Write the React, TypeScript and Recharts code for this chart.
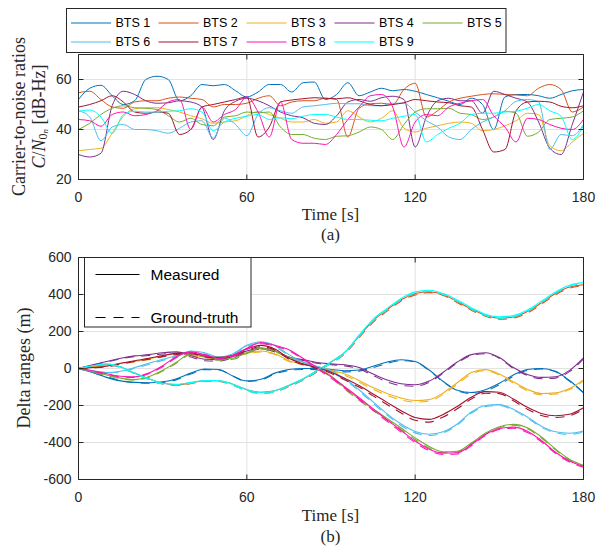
import { CartesianGrid, Line, LineChart, XAxis, YAxis } from "recharts";

// ---- (a) carrier-to-noise ratio per BTS, sampled every 4 s ----
const cnTimes = [
  0, 4, 8, 12, 16, 20, 24, 28, 32, 36, 40, 44, 48, 52, 56, 60, 64, 68, 72, 76, 80, 84, 88,
  92, 96, 100, 104, 108, 112, 116, 120, 124, 128, 132, 136, 140, 144, 148, 152, 156, 160,
  164, 168, 172, 176, 180,
];

const cnBts1 = [
  52, 56.5, 57.7, 53.5, 50, 51.5, 60, 61.3, 60, 51.5, 53.5, 58, 57.5, 58, 55.5, 53, 55, 58,
  58, 55, 58.7, 59, 52, 54, 58.7, 53.5, 55, 56.5, 55.5, 56, 55.3, 54, 52.7, 51.3, 50, 52.5,
  50, 40, 53, 54, 54, 53.5, 52.5, 54, 55.5, 56,
];
const cnBts2 = [
  54.7, 55.3, 52, 49, 48.5, 51, 51.5, 51.5, 52.5, 53, 52.5, 52, 49, 50, 50, 50.5, 52.5, 53.5,
  49.5, 51, 51.5, 51.5, 52.5, 52, 37, 48.5, 50.3, 50.5, 50, 56, 58.5, 45, 47.5, 51, 52.5,
  53.3, 54, 54.3, 54, 53.8, 53.5, 56.5, 58, 56, 47, 49,
];
const cnBts3 = [
  31.5, 32, 32.5, 38.5, 45.3, 48.3, 48.7, 48.7, 48, 47, 45.5, 44.3, 42.5, 43, 43.5, 45.5,
  47.2, 46, 44.5, 43, 43, 44, 42.5, 43, 47.5, 45, 43, 44.5, 47.5, 40.5, 39, 40.5, 41.5, 42.5,
  43, 42.5, 39.5, 40, 41.5, 43.5, 46.5, 46, 33.5, 31.5, 35, 38.5,
];
const cnBts4 = [
  30, 29, 30.5, 49.5, 55.3, 54, 51.5, 50.5, 50.7, 51.5, 51, 49, 36, 47.5, 51.3, 52.5, 51.5,
  49.5, 47, 45.5, 44.7, 42.5, 42, 45.5, 51, 52, 51.3, 52.7, 53.3, 52, 33, 45, 51.5, 52.5,
  51.5, 51.5, 46.5, 55.3, 54, 52.5, 51, 43, 32.5, 30, 42, 55,
];
const cnBts5 = [
  40, 42.5, 46, 48.5, 49.5, 48.7, 48.5, 48, 45.5, 43, 44.5, 42, 41.5, 45, 45.5, 47, 46.7, 47,
  41, 38, 38, 36.5, 36, 37.3, 37.5, 39, 41, 40, 36, 42, 47, 48.3, 48.3, 48.5, 46.5, 46, 44,
  45, 47.3, 46.5, 37.3, 39, 44, 44.5, 45, 47.5,
];
const cnBts6 = [
  47.5, 45, 35.5, 41, 42, 40, 40, 39.5, 38.5, 40.5, 43, 43.5, 36.5, 44.5, 42, 37.5, 46, 48.7,
  47.5, 46.5, 49, 49.5, 50, 50.5, 50.3, 50.3, 49.5, 49.5, 50.5, 50.5, 47, 43.5, 41, 37, 36,
  40, 43, 45, 47.5, 51.3, 52, 51, 32, 38, 37.5, 42,
];
const cnBts7 = [
  49, 50, 51.5, 53.5, 51, 47, 46.5, 47, 46.5, 38, 40, 49, 50, 51, 52, 53, 37, 41, 51, 51.8,
  52.3, 52.7, 52.5, 52.3, 52.7, 51.5, 50, 49.5, 50, 50.7, 52, 51.5, 51, 50.7, 49.5, 49, 40,
  31, 32, 47.5, 51, 51.3, 51, 49.3, 48.7, 49.5,
];
const cnBts8 = [
  44, 43.5, 41.3, 46, 47, 45.5, 46, 47.5, 51, 52, 40, 49, 43, 46, 48, 53, 47, 37, 51, 36,
  34.5, 34.5, 34, 38, 44, 49, 53.5, 54, 49, 33, 43, 46, 45.5, 49, 50.5, 51.5, 52, 45.5, 41,
  35, 44.5, 44, 42, 40.5, 40, 44,
];
const cnBts9 = [
  47.3, 47.8, 45, 38.5, 46, 47.3, 47, 47, 47.3, 47.5, 48.3, 47, 39.5, 43, 44.5, 45.3, 46, 44,
  44.7, 44.3, 45.3, 46, 46, 45, 44, 44, 43.7, 43.5, 44.5, 45.3, 46, 35, 38, 40.5, 42.5, 46,
  46.5, 46.5, 47, 47.3, 48.5, 50, 47.5, 45.3, 36, 41.5,
];

// ---- (b) delta ranges per BTS, sampled every 5 s ----
const drTimes = [
  0, 5, 10, 15, 20, 25, 30, 35, 40, 45, 50, 55, 60, 65, 70, 75, 80, 85, 90, 95, 100, 105, 110,
  115, 120, 125, 130, 135, 140, 145, 150, 155, 160, 165, 170, 175, 180,
];

const measBts1 = [
  0, -22, -48, -67, -75, -77, -72, -55, -25, -3, -5, -40, -67, -58, -25, -5, 0, 0, -5, -12,
  -8, 12, 35, 47, 38, -8, -70, -118, -130, -115, -80, -35, -5, 0, -15, -65, -130,
];
const measBts2 = [
  0, 12, 22, 8, -25, -55, -80, -88, -78, -66, -66, -85, -115, -128, -120, -92, -58, -12, 35,
  88, 175, 258, 318, 372, 405, 415, 400, 362, 322, 288, 272, 278, 308, 355, 405, 440, 453,
];
const measBts3 = [
  0, 8, 18, 27, 38, 52, 68, 83, 75, 63, 58, 68, 85, 95, 80, 42, 25, 10, -10, -30, -65, -103,
  -135, -160, -173, -168, -132, -77, -22, -6, -30, -72, -113, -135, -132, -108, -62,
];
const measBts4 = [
  0, 20, 38, 55, 68, 75, 85, 90, 70, 50, 48, 65, 95, 110, 95, 62, 48, 32, 25, 20, 5, -30,
  -62, -82, -88, -68, -20, 35, 75, 85, 60, 5, -32, -48, -45, -10, 58,
];
const measBts5 = [
  0, -18, -35, -52, -60, -45, -10, 35, 80, 68, 50, 55, 85, 110, 95, 62, 35, 5, -40, -105,
  -165, -218, -270, -322, -375, -422, -450, -447, -403, -350, -315, -302, -320, -370, -435,
  -490, -523,
];
const measBts6 = [
  0, -12, -22, -15, 5, 28, 50, 70, 95, 85, 62, 80, 125, 145, 125, 75, 35, 12, -15, -55, -115,
  -180, -245, -300, -340, -355, -342, -300, -235, -200, -195, -220, -262, -312, -342, -350,
  -338,
];
const measBts7 = [
  0, 5, 12, 28, 42, 55, 70, 82, 85, 68, 60, 72, 105, 125, 105, 55, 25, 5, -20, -54, -92,
  -138, -183, -228, -265, -275, -248, -205, -155, -125, -128, -165, -210, -243, -255, -247,
  -212,
];
const measBts8 = [
  0, -12, -28, -42, -45, -25, 15, 65, 90, 75, 55, 70, 110, 140, 125, 102, 55, 5, -45, -100,
  -158, -218, -278, -335, -392, -436, -457, -455, -412, -357, -324, -317, -339, -389, -453,
  -500, -530,
];
const measBts9 = [
  0, 15, 25, 10, -25, -55, -80, -86, -75, -65, -65, -85, -115, -130, -120, -90, -55, -10, 35,
  90, 180, 266, 325, 379, 414, 423, 405, 370, 329, 293, 279, 286, 316, 364, 414, 450, 464,
];

const truthBts1 = [
  0, -20, -45, -65, -76, -80, -76, -60, -30, -6, -8, -42, -70, -62, -30, -10, -5, -6, -12,
  -18, -14, 5, 28, 42, 35, -12, -72, -120, -135, -122, -88, -42, -10, -3, -18, -68, -132,
];
const truthBts2 = [
  0, 10, 20, 5, -28, -58, -84, -92, -82, -70, -70, -90, -120, -134, -126, -98, -64, -18, 28,
  80, 166, 250, 310, 365, 398, 410, 395, 356, 315, 282, 266, 272, 300, 348, 398, 434, 448,
];
const truthBts3 = [
  0, 6, 15, 24, 35, 48, 64, 78, 70, 58, 54, 64, 80, 90, 76, 38, 22, 6, -15, -38, -74, -112,
  -145, -170, -182, -176, -140, -85, -30, -12, -36, -78, -120, -142, -138, -114, -68,
];
const truthBts4 = [
  0, 18, 35, 52, 64, 70, 78, 82, 62, 42, 40, 58, 88, 104, 90, 58, 44, 28, 20, 14, -2, -38,
  -72, -92, -96, -74, -25, 30, 70, 80, 56, 0, -38, -55, -52, -17, 52,
];
const truthBts5 = [
  0, -20, -38, -55, -62, -48, -14, 30, 74, 62, 45, 50, 80, 104, 90, 58, 30, 0, -46, -112,
  -172, -226, -278, -330, -384, -430, -456, -452, -408, -356, -320, -307, -326, -376, -440,
  -495, -526,
];
const truthBts6 = [
  0, -14, -25, -18, 0, 22, 44, 64, 88, 78, 56, 74, 118, 138, 118, 70, 30, 6, -22, -62, -122,
  -188, -252, -308, -348, -362, -348, -306, -242, -206, -200, -226, -268, -318, -348, -356,
  -344,
];
const truthBts7 = [
  0, 3, 9, 24, 38, 50, 64, 76, 80, 63, 55, 67, 98, 118, 100, 50, 20, 0, -26, -62, -100, -148,
  -195, -240, -280, -290, -262, -218, -165, -134, -136, -174, -220, -254, -265, -256, -220,
];
const truthBts8 = [
  0, -14, -31, -45, -48, -28, 10, 60, 84, 70, 50, 65, 104, 134, 120, 96, 50, 0, -52, -108,
  -166, -226, -286, -344, -400, -444, -464, -462, -418, -362, -330, -323, -346, -396, -458,
  -505, -534,
];
const truthBts9 = [
  0, 13, 22, 7, -28, -58, -84, -90, -79, -69, -69, -90, -120, -136, -126, -96, -62, -16, 28,
  82, 172, 258, 318, 372, 408, 418, 400, 364, 322, 286, 272, 280, 310, 358, 408, 445, 460,
];

const btsNames = ["BTS 1", "BTS 2", "BTS 3", "BTS 4", "BTS 5", "BTS 6", "BTS 7", "BTS 8", "BTS 9"];
const btsColors = [
  "#0072bd",
  "#d95319",
  "#edb120",
  "#7e2f8e",
  "#77ac30",
  "#4dbeee",
  "#a2142f",
  "#ff14b0",
  "#00ffff",
];

const cnTicksX = [0, 60, 120, 180];
const cnTicksY = [20, 40, 60];
const drTicksY = [-600, -400, -200, 0, 200, 400, 600];

const cnSeries = [cnBts1, cnBts2, cnBts3, cnBts4, cnBts5, cnBts6, cnBts7, cnBts8, cnBts9];
const measSeries = [measBts1, measBts2, measBts3, measBts4, measBts5, measBts6, measBts7, measBts8, measBts9];
const truthSeries = [truthBts1, truthBts2, truthBts3, truthBts4, truthBts5, truthBts6, truthBts7, truthBts8, truthBts9];

const cnRows = cnTimes.map((t, i) => {
  const row: Record<string, number> = { t };
  cnSeries.forEach((s, k) => (row[`s${k}`] = s[i]));
  return row;
});

const drRows = drTimes.map((t, i) => {
  const row: Record<string, number> = { t };
  measSeries.forEach((s, k) => (row[`m${k}`] = s[i]));
  truthSeries.forEach((s, k) => (row[`g${k}`] = s[i]));
  return row;
});

const SANS = "'Liberation Sans', Arial, Helvetica, sans-serif";
const SERIF = "'Liberation Serif', 'Times New Roman', serif";
const AXIS = "#262626";
const GRID = "#e2e2e2";
const DASH = "9 7";

const tickStyle = { fill: AXIS, fontSize: 14, fontFamily: SANS };
const blank = () => "";

// MATLAB-style boxed axes: inward ticks on all four sides
const BoxAxes = ({ domainY, ticksY }: { domainY: [number, number]; ticksY: number[] }) => [
  <XAxis
    key="xb"
    dataKey="t"
    type="number"
    domain={[0, 180]}
    ticks={cnTicksX}
    allowDataOverflow
    height={20}
    tickSize={-5}
    tickMargin={18}
    stroke={AXIS}
    tick={tickStyle}
  />,
  <XAxis
    key="xt"
    xAxisId="top"
    orientation="top"
    dataKey="t"
    type="number"
    domain={[0, 180]}
    ticks={cnTicksX}
    allowDataOverflow
    height={1}
    tickSize={-5}
    stroke={AXIS}
    tickFormatter={blank}
  />,
  <YAxis
    key="yl"
    type="number"
    domain={domainY}
    ticks={ticksY}
    allowDataOverflow
    width={40}
    tickSize={-5}
    tickMargin={12}
    stroke={AXIS}
    tick={tickStyle}
  />,
  <YAxis
    key="yr"
    yAxisId="right"
    orientation="right"
    type="number"
    domain={domainY}
    ticks={ticksY}
    allowDataOverflow
    width={1}
    tickSize={-5}
    stroke={AXIS}
    tickFormatter={blank}
  />,
];

const CnChart = () => (
  <LineChart
    width={597}
    height={240}
    data={cnRows}
    margin={{ top: 53.5, right: 12.5, bottom: 40.5, left: 38.5 }}
  >
    <CartesianGrid stroke={GRID} fill="none" />
    {cnSeries.map((_, k) => (
      <Line
        key={k}
        dataKey={`s${k}`}
        type="monotone"
        stroke={btsColors[k]}
        strokeWidth={1}
        dot={false}
        activeDot={false}
        isAnimationActive={false}
      />
    ))}
    {BoxAxes({ domainY: [20, 70], ticksY: cnTicksY })}
  </LineChart>
);

const DrChart = () => (
  <LineChart
    width={597}
    height={308}
    data={drRows}
    margin={{ top: 16.5, right: 12.5, bottom: 48.5, left: 38.5 }}
  >
    <CartesianGrid stroke={GRID} fill="none" />
    {measSeries.flatMap((_, k) => [
      <Line
        key={`m${k}`}
        dataKey={`m${k}`}
        type="monotone"
        stroke={btsColors[k]}
        strokeWidth={1.1}
        dot={false}
        activeDot={false}
        isAnimationActive={false}
      />,
      <Line
        key={`g${k}`}
        dataKey={`g${k}`}
        type="monotone"
        stroke={btsColors[k]}
        strokeWidth={1.1}
        strokeDasharray={DASH}
        dot={false}
        activeDot={false}
        isAnimationActive={false}
      />,
    ])}
    {BoxAxes({ domainY: [-600, 600], ticksY: drTicksY })}
  </LineChart>
);

const legendCols = [71, 158.5, 246.5, 334.5, 422.5];
const legendRows = [23, 42];

const Overlay = () => (
  <svg
    width={597}
    height={548}
    style={{ position: "absolute", left: 0, top: 0, pointerEvents: "none" }}
  >
    {/* BTS legend above panel (a) */}
    <rect x={66.5} y={8.5} width={439.5} height={44} fill="#fff" stroke={AXIS} />
    {btsNames.map((name, i) => {
      const x = legendCols[i % 5];
      const y = legendRows[Math.floor(i / 5)];
      return (
        <g key={name}>
          <line x1={x} x2={x + 40} y1={y} y2={y} stroke={btsColors[i]} strokeWidth={1.2} />
          <text
            x={x + 44.5}
            y={y}
            dominantBaseline="central"
            fontFamily={SANS}
            fontSize={12.5}
            fill="#000"
          >
            {name}
          </text>
        </g>
      );
    })}

    {/* axis labels, panel (a) */}
    <text
      transform="translate(18.5,116.5) rotate(-90)"
      textAnchor="middle"
      dominantBaseline="central"
      fontFamily={SERIF}
      fontSize={18}
      fill={AXIS}
    >
      Carrier-to-noise ratios
    </text>
    <text
      transform="translate(39,116.5) rotate(-90)"
      textAnchor="middle"
      dominantBaseline="central"
      fontFamily={SERIF}
      fontSize={18}
      fill={AXIS}
    >
      <tspan fontStyle="italic">C</tspan>/<tspan fontStyle="italic">N</tspan>
      <tspan fontSize={12} dy={4}>0</tspan>
      <tspan fontSize={9} fontStyle="italic" dy={2}>n</tspan>
      <tspan dy={-6}>{" [dB-Hz]"}</tspan>
    </text>
    <text x={330.5} y={214.5} textAnchor="middle" dominantBaseline="central" fontFamily={SERIF} fontSize={17} fill={AXIS}>
      Time [s]
    </text>
    <text x={330.5} y={234.5} textAnchor="middle" dominantBaseline="central" fontFamily={SERIF} fontSize={17} fill={AXIS}>
      (a)
    </text>

    {/* measured / ground-truth legend inside panel (b) */}
    <rect x={84.5} y={257.5} width={166.5} height={69.5} fill="#fff" stroke={AXIS} />
    <line x1={95.5} x2={139.5} y1={274.5} y2={274.5} stroke="#000" strokeWidth={1.1} />
    <line x1={95.5} x2={139.5} y1={317.5} y2={317.5} stroke="#000" strokeWidth={1.1} strokeDasharray="10 8" />
    <text x={150.5} y={274.5} dominantBaseline="central" fontFamily={SANS} fontSize={15.5} fill="#000">
      Measured
    </text>
    <text x={150.5} y={317.5} dominantBaseline="central" fontFamily={SANS} fontSize={15.5} fill="#000">
      Ground-truth
    </text>

    {/* axis labels, panel (b) */}
    <text
      transform="translate(24,368) rotate(-90)"
      textAnchor="middle"
      dominantBaseline="central"
      fontFamily={SERIF}
      fontSize={18}
      fill={AXIS}
    >
      Delta ranges (m)
    </text>
    <text x={330.5} y={515.5} textAnchor="middle" dominantBaseline="central" fontFamily={SERIF} fontSize={17} fill={AXIS}>
      Time [s]
    </text>
    <text x={330.5} y={536} textAnchor="middle" dominantBaseline="central" fontFamily={SERIF} fontSize={17} fill={AXIS}>
      (b)
    </text>
  </svg>
);

export default function App() {
  return (
    <div
      style={{
        position: "absolute",
        left: 0,
        top: 0,
        width: 597,
        height: 548,
        background: "#fff",
        overflow: "hidden",
      }}
    >
      <div style={{ position: "absolute", left: 0, top: 0 }}>
        <CnChart />
      </div>
      <div style={{ position: "absolute", left: 0, top: 240 }}>
        <DrChart />
      </div>
      <Overlay />
    </div>
  );
}
